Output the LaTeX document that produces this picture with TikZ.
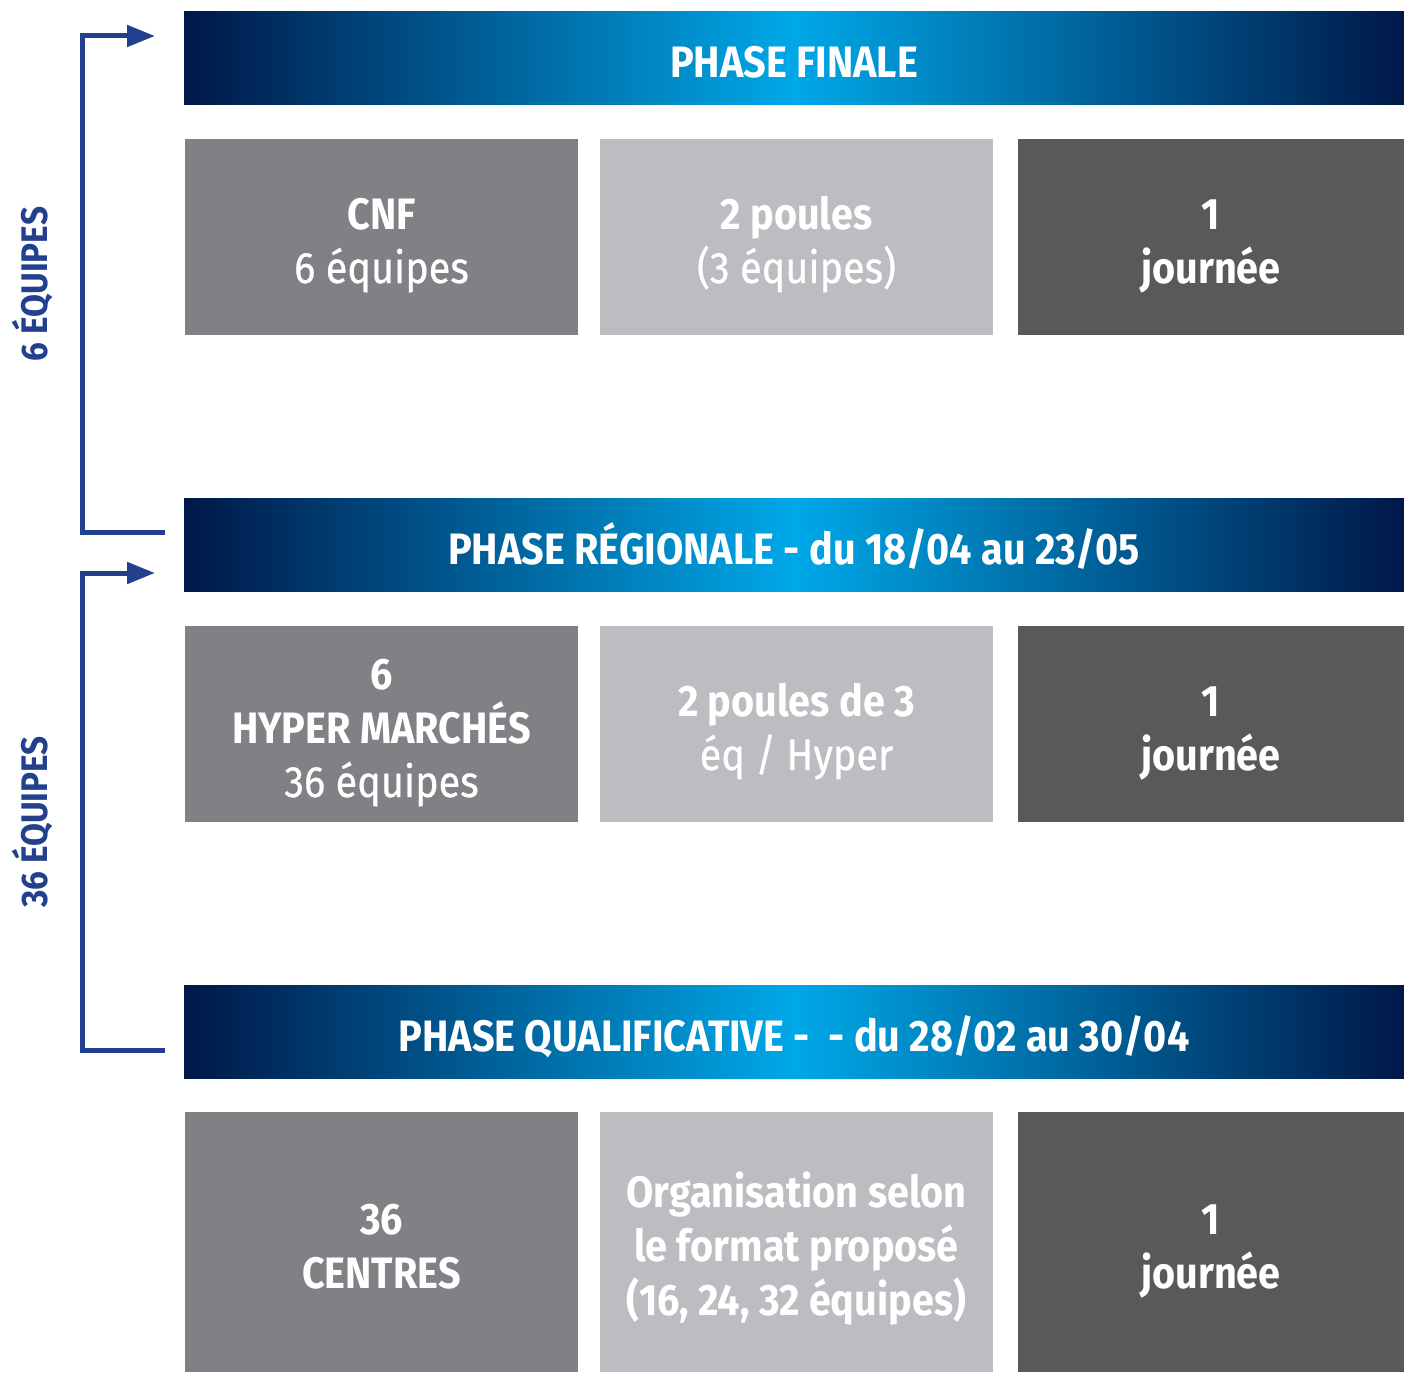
\documentclass[tikz,border=0pt]{standalone}
\usepackage{fontspec}
\setmainfont{Fira Sans}[FakeStretch=0.9]
\newfontfamily\medfont{Fira Sans}[FakeStretch=0.9, FakeBold=0.6]
\usetikzlibrary{arrows.meta}

\definecolor{navy}{RGB}{0,24,72}
\definecolor{brightcyan}{RGB}{0,168,232}
\definecolor{bracketblue}{RGB}{35,64,143}
\definecolor{cellmid}{RGB}{128,129,132}
\definecolor{celllight}{RGB}{188,189,193}
\definecolor{celldark}{RGB}{88,89,91}

\newcommand{\cellhi}{\rule{0pt}{50pt}}
\newcommand{\celllo}{\rule[-12pt]{0pt}{12pt}}

\begin{document}
\begin{tikzpicture}[x=1pt,y=-1pt,
    phase/.style={minimum width=1220pt, minimum height=93pt, inner sep=0pt,
        text height=40pt, text depth=0pt,
        left color=navy, right color=navy, middle color=brightcyan,
        text=white, font=\fontsize{44}{50}\selectfont\bfseries},
    cell/.style={minimum width=393pt, inner sep=0pt, text=white, align=center,
        font=\fontsize{44}{54}\selectfont\bfseries},
    bracket/.style={draw=bracketblue, line width=5pt,
        -{Triangle[length=28pt,width=21pt]}},
    count/.style={rotate=90, text=bracketblue, font=\fontsize{37}{40}\selectfont\bfseries}]
    \useasboundingbox (0,0) rectangle (1404,1372);

    \node[phase] (finale) at (794,58) {PHASE FINALE};
    \node[phase] (regionale) at (794,544.5) {PHASE RÉGIONALE - du 18/04 au 23/05};
    \node[phase] (qualif) at (794,1031.5) {PHASE QUALIFICATIVE -\ \ - du 28/02 au 30/04};

    \node[cell, fill=cellmid, minimum height=196pt] (cnf) at (381.5,237) {\cellhi CNF\\{\medfont\mdseries 6 équipes}\celllo};
    \node[cell, fill=celllight, minimum height=196pt] (poules) at (796.5,237) {\cellhi 2 poules\\{\medfont\mdseries (3 équipes)}\celllo};
    \node[cell, fill=celldark, minimum height=196pt, minimum width=386pt] (jour1) at (1211,237) {\cellhi 1\\journée\celllo};

    \node[cell, fill=cellmid, minimum height=196pt] (hyper) at (381.5,724) {\cellhi 6\\HYPER MARCHÉS\\{\medfont\mdseries 36 équipes}\celllo};
    \node[cell, fill=celllight, minimum height=196pt] (poules3) at (796.5,724) {\cellhi 2 poules de 3\\{\medfont\mdseries éq / Hyper}\celllo};
    \node[cell, fill=celldark, minimum height=196pt, minimum width=386pt] (jour2) at (1211,724) {\cellhi 1\\journée\celllo};

    \node[cell, fill=cellmid, minimum height=260pt] (centres) at (381.5,1242) {\cellhi 36\\CENTRES\celllo};
    \node[cell, fill=celllight, minimum height=260pt] (format) at (796.5,1242) {\cellhi Organisation selon\\le format proposé\\(16, 24, 32 équipes)\celllo};
    \node[cell, fill=celldark, minimum height=260pt, minimum width=386pt] (jour3) at (1211,1242) {\cellhi 1\\journée\celllo};

    \node[count] (six) at (33,284) {6 ÉQUIPES};
    \node[count] (trentesix) at (33,822) {36 ÉQUIPES};

    \coordinate (from1) at (165,532);
    \coordinate (to1) at (155,36);
    \coordinate (from2) at (165,1050);
    \coordinate (to2) at (155,573);
    \draw[bracket] (from1) -- ++(-83,0) |- (to1);
    \draw[bracket] (from2) -- ++(-83,0) |- (to2);
\end{tikzpicture}
\end{document}
